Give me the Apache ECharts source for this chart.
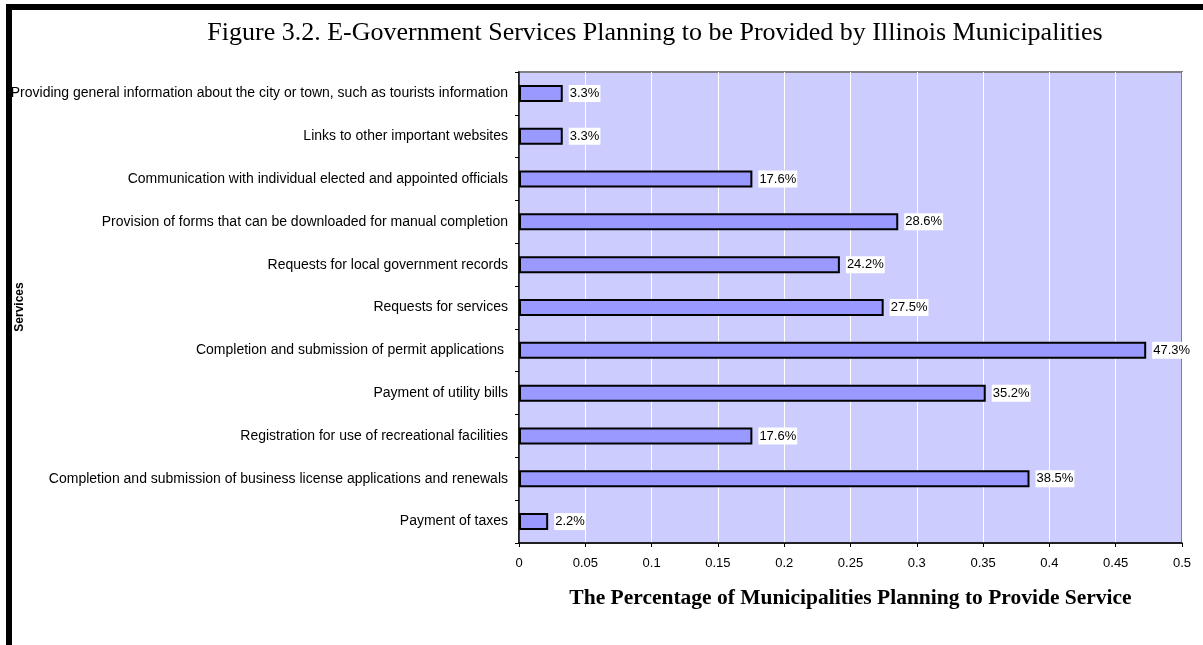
<!DOCTYPE html>
<html>
<head>
<meta charset="utf-8">
<script src="https://cdn.jsdelivr.net/npm/echarts@6/dist/echarts.min.js"></script>
<style>
  html, body { margin: 0; padding: 0; background: #fff; }
  #chart { width: 1203px; height: 645px; }
</style>
</head>
<body>
<div id="chart"></div>
<script>
// Services, listed top to bottom as shown on the vertical axis
const categories = [
  'Providing general information about the city or town, such as tourists information',
  'Links to other important websites',
  'Communication with individual elected and appointed officials',
  'Provision of forms that can be downloaded for manual completion',
  'Requests for local government records',
  'Requests for services',
  'Completion and submission of permit applications ',
  'Payment of utility bills',
  'Registration for use of recreational facilities',
  'Completion and submission of business license applications and renewals',
  'Payment of taxes'
];

// Share of municipalities planning to provide each service
const shares = [0.033, 0.033, 0.176, 0.286, 0.242, 0.275, 0.473, 0.352, 0.176, 0.385, 0.022];

const titleText = 'Figure 3.2. E-Government Services Planning to be Provided by Illinois Municipalities';
const xAxisTitle = 'The Percentage of Municipalities Planning to Provide Service';
const yAxisTitle = 'Services';

const SANS = "'Liberation Sans', Arial, sans-serif";
const SERIF = "'Liberation Serif', 'Times New Roman', serif";

const chart = echarts.init(document.getElementById('chart'), null, { renderer: 'canvas' });

chart.setOption({
  backgroundColor: '#ffffff',
  animation: false,
  title: {
    text: titleText,
    left: 650,
    top: 15,
    textAlign: 'center',
    textStyle: { fontFamily: SERIF, fontSize: 26, fontWeight: 'normal', color: '#000' }
  },
  graphic: [
    // page frame along the top and left edges
    { type: 'rect', shape: { x: 6, y: 4, width: 1197, height: 6 }, style: { fill: '#000' }, silent: true },
    { type: 'rect', shape: { x: 6, y: 4, width: 6, height: 641 }, style: { fill: '#000' }, silent: true },
    // vertical axis title, reading bottom to top
    {
      type: 'text',
      x: 20,
      y: 307,
      rotation: Math.PI / 2,
      silent: true,
      style: {
        text: yAxisTitle,
        font: "bold 12px 'Liberation Sans', Arial, sans-serif",
        fill: '#000',
        align: 'center',
        verticalAlign: 'middle'
      }
    }
  ],
  grid: {
    left: 519,
    right: 21,
    top: 72,
    bottom: 102,
    containLabel: false,
    outerBoundsMode: 'none',
    show: true,
    backgroundColor: '#CCCCFF',
    borderColor: '#808080',
    borderWidth: 2
  },
  xAxis: {
    type: 'value',
    min: 0,
    max: 0.5,
    interval: 0.05,
    name: xAxisTitle,
    nameLocation: 'middle',
    nameGap: 44,
    nameTextStyle: { fontFamily: SERIF, fontSize: 21.5, fontWeight: 'bold', color: '#000' },
    axisLine: { show: true, lineStyle: { color: '#000', width: 1.5 } },
    axisTick: { show: true, length: 4, lineStyle: { color: '#000' } },
    axisLabel: { fontFamily: SANS, fontSize: 13, color: '#000', margin: 14 },
    splitLine: { show: true, lineStyle: { color: '#ffffff', width: 1 } }
  },
  yAxis: {
    type: 'category',
    data: categories,
    inverse: true,
    axisLine: { show: true, lineStyle: { color: '#000', width: 1.5 } },
    axisTick: { show: true, length: 4, alignWithLabel: false, lineStyle: { color: '#000' } },
    axisLabel: { fontFamily: SANS, fontSize: 14, color: '#000', margin: 11 },
    splitLine: { show: false }
  },
  series: [{
    type: 'bar',
    data: shares,
    barWidth: 17,
    itemStyle: { color: '#9999FF', borderColor: '#000', borderWidth: 2 },
    label: {
      show: true,
      position: 'right',
      distance: 6,
      formatter: p => (p.value * 100).toFixed(1) + '%',
      fontFamily: SANS,
      fontSize: 13,
      color: '#000',
      backgroundColor: '#ffffff',
      padding: [2, 1, 2, 1]
    }
  }]
});
</script>
</body>
</html>
